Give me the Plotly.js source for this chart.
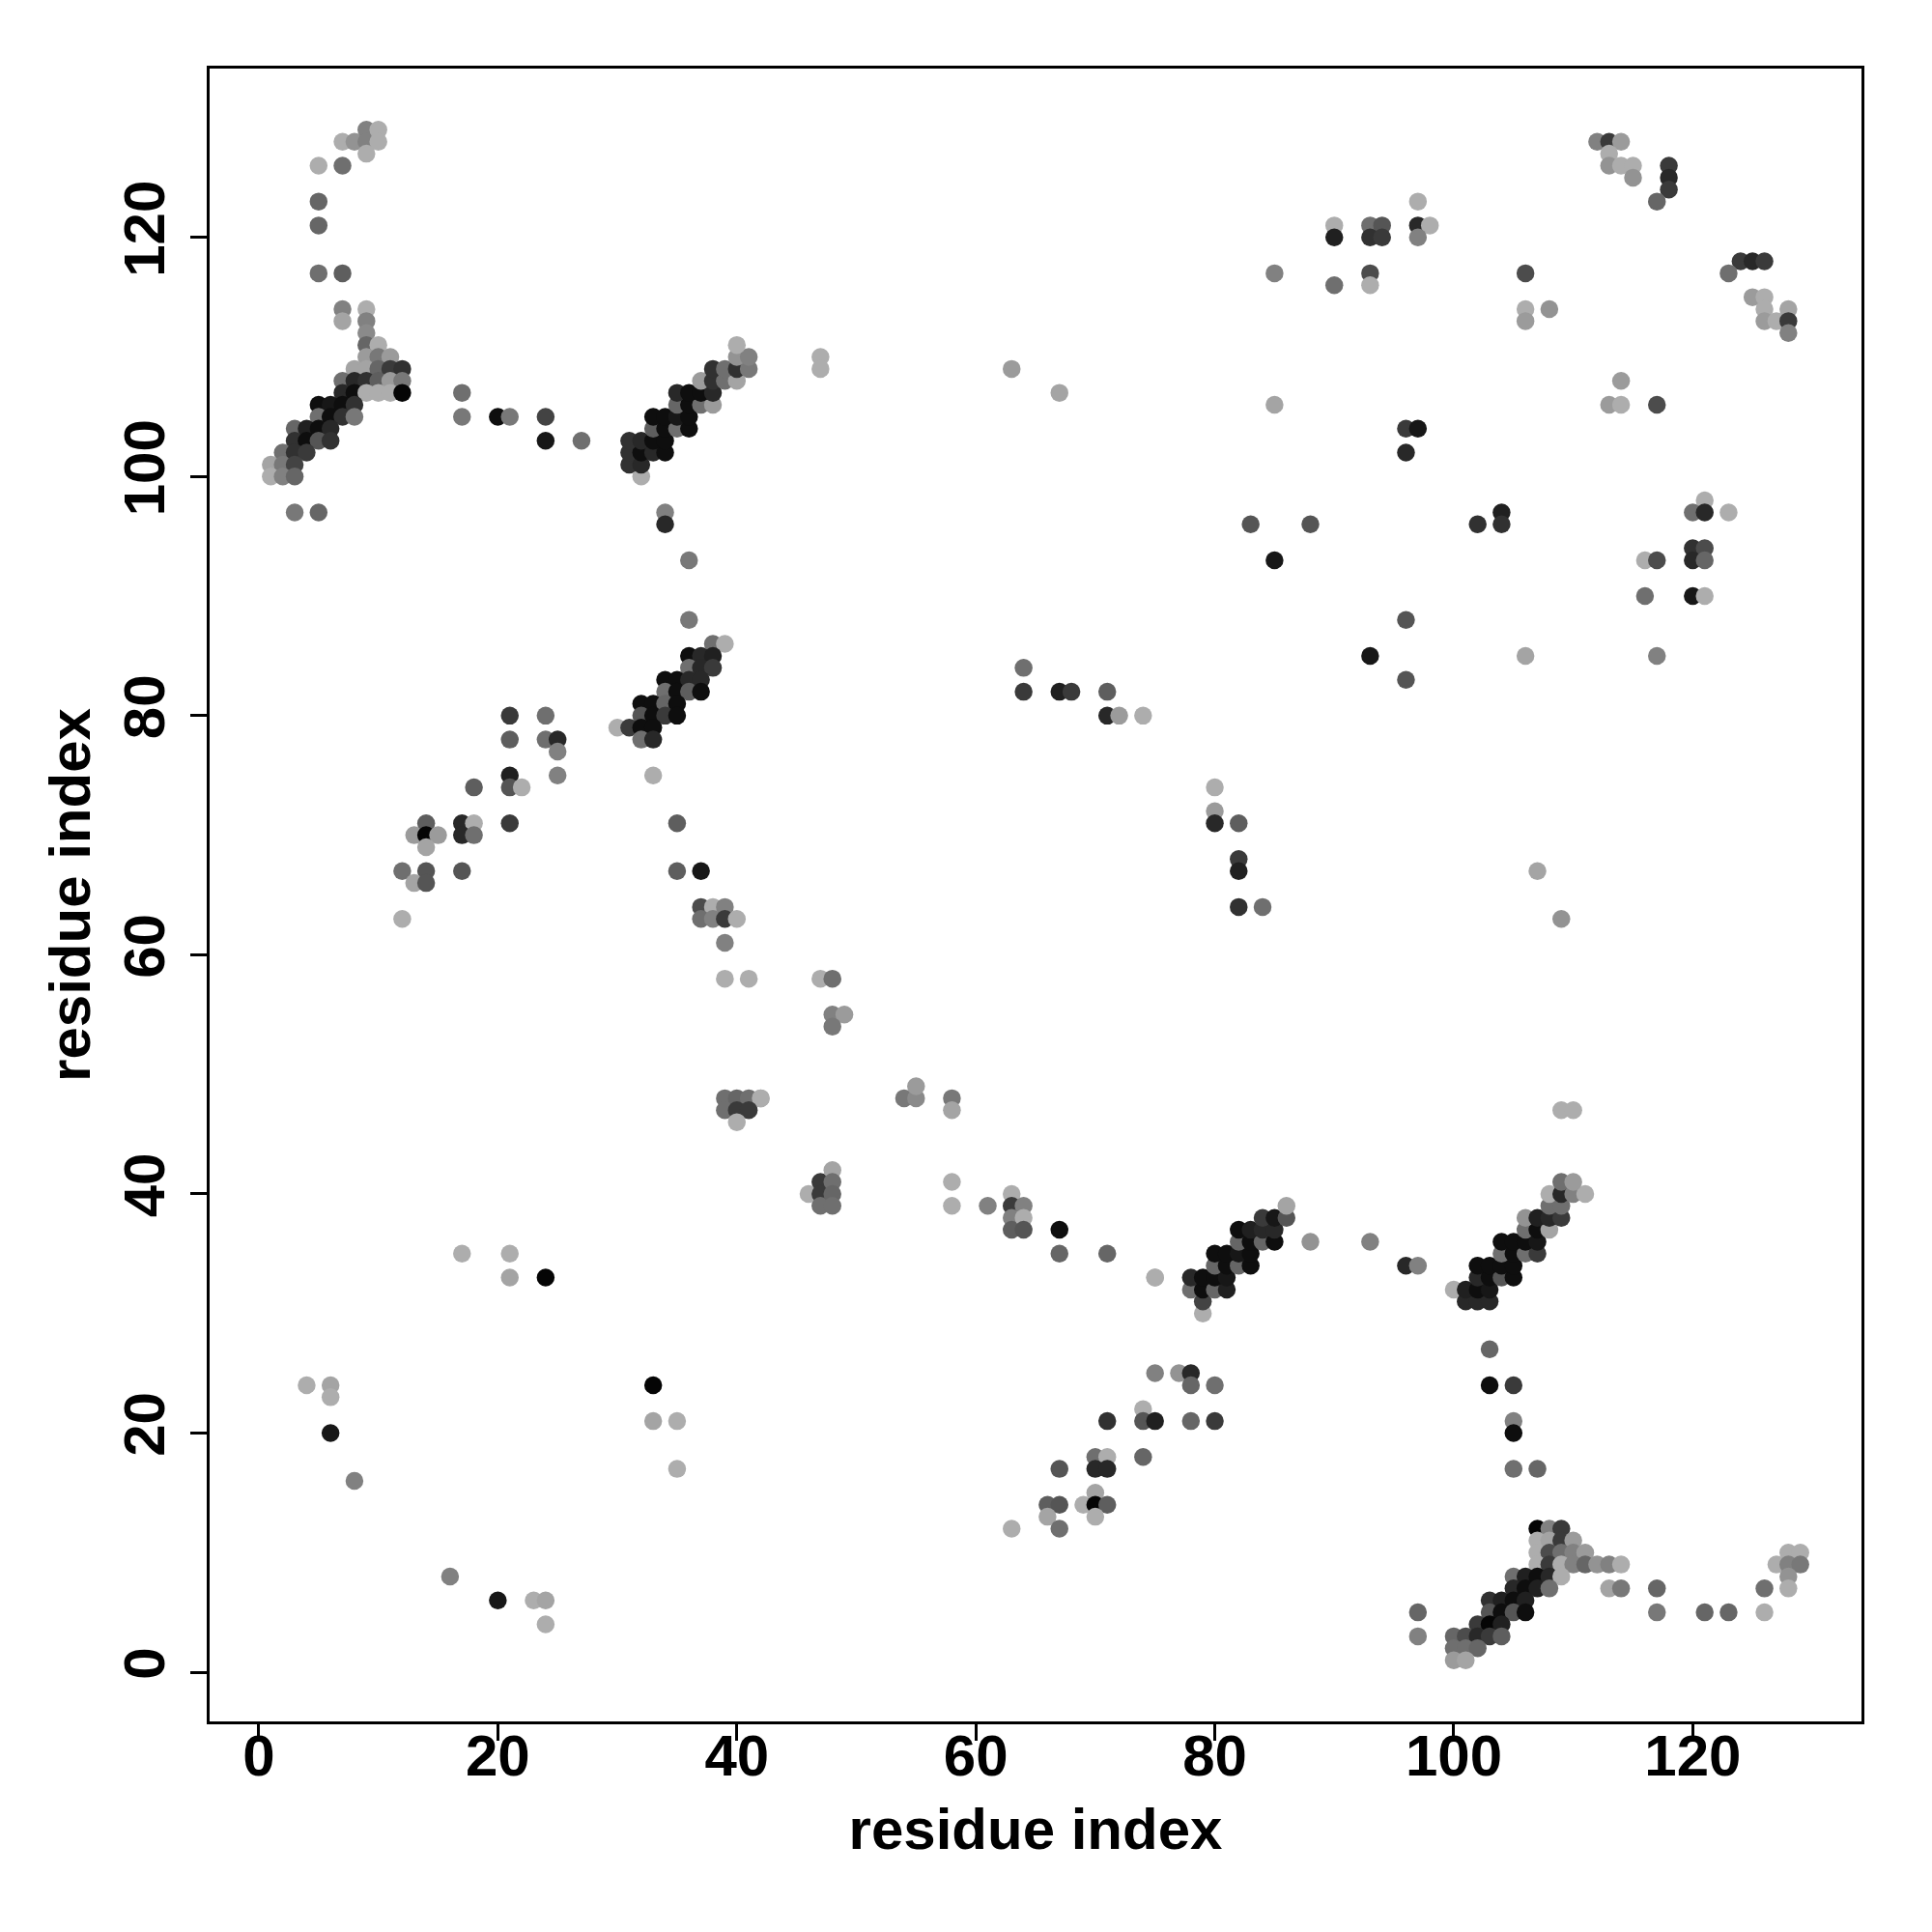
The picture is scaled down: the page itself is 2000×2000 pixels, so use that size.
<!DOCTYPE html>
<html>
<head>
<meta charset="utf-8">
<script src="https://cdn.plot.ly/plotly-3.0.1.min.js"></script>
<style>html,body{margin:0;padding:0;background:#fff;}</style>
</head>
<body>
<div id="chart" style="width:2000px;height:2000px;"></div>
<script>
// residue i (x), residue j (y), contact score (0 = light grey, 1 = black)
const resI = [
 7,8,9,9,10,10,9,5,7,5,5,5,7,7,7,9,9,9,9,10,9,10,11,8,9,10,11,12,7,8,9,10,11,12,7,8,9,10,11,12,5,6,7,8,5,6,7,8,3,4,5,6,3,4,5,6,2,3,4,1,2,3,1,2,3,3,5,
 17,17,20,21,24,24,27,
 32,31,32,31,32,33,34,31,32,33,34,33,34,35,36,33,34,35,36,35,36,37,38,35,36,37,38,37,38,39,40,38,39,40,41,40,41,40,34,34,36,36,
 47,47,63,67,85,85,83,88,85,
 112,113,114,113,113,114,115,115,118,118,118,117,90,90,93,94,93,94,97,97,98,97,90,93,93,106,106,106,108,124,125,126,123,125,126,126,126,127,128,128,128,114,113,114,117,96,97,96,102,104,104,121,120,121,123,120,121,120,121,116,117,116,120,121,96,
 93,96,106,117,107,109,109,110,
 64,64,67,68,71,71,72,74,80,80,80,82,82,82,82,84,47,48,48,49,48,42,54,55,55,58,58,
 38,39,36,37,38,36,37,38,34,35,36,37,34,35,36,37,32,33,34,35,32,33,34,35,30,31,32,33,32,33,33,
 21,24,21,24,25,25,25,21,21,22,18,17,18,17,18,21,14,13,14,15,14,12,14,17,13,14,12,35,35,37,37,38,39,37,38,39,40,39,39,41,39,40,41,42,39,40,41,40,
 17,21,21,24,4,6,6,6,8,16,20,23,24,24,33,33,35,35,
 46,47,47,47,48,48,48,48,58,58,61,63,63,63,63,64,64,64,67,67,71,75,75,77,78,78,80,74,71,74,75,78,80,74,67,70,71,70,71,70,66,67,69,70,71,66,70,63,67,
 79,79,78,79,80,81,78,79,80,81,80,81,82,83,80,81,82,83,82,83,84,85,82,83,84,85,84,85,86,86,88,75,
 100,101,102,103,101,102,103,102,103,104,105,102,103,104,105,104,105,106,107,104,105,106,107,106,107,108,106,107,108,109,108,109,108,109,110,111,109,110,96,97,93,
 103,103,105,105,105,105,107,
 107,108,109,107,108,109,110,107,108,109,110,111,107,108,109,110,111,112,113,114,105,106,107,108,109,105,106,107,108,103,104,105,106,103,104,105,106,102,103,104,100,101,102,103,104,100,101,102,100,101,
 97,97,113,114,117,117,121,123,126,126,127,128,129,128,129,128,128
];
const resJ = [
 128,128,129,128,129,128,127,126,126,123,121,117,117,114,113,114,113,112,111,111,110,110,110,109,109,109,109,109,108,108,108,108,108,108,107,107,107,107,107,107,106,106,106,106,105,105,105,105,104,104,104,104,103,103,103,103,102,102,102,101,101,101,100,100,100,97,97,
 107,105,105,105,105,103,103,
 100,101,101,102,102,102,102,103,103,103,103,104,104,104,104,105,105,105,105,106,106,106,106,107,107,107,107,108,108,108,108,109,109,109,109,110,110,111,97,96,93,88,
 110,109,109,107,117,106,96,96,93,
 128,128,128,127,126,126,126,125,126,125,124,123,121,120,121,121,120,120,123,121,121,120,116,117,116,117,114,113,114,118,118,118,117,115,115,114,113,113,114,113,112,108,106,106,106,104,104,102,96,97,96,98,97,97,97,94,94,93,93,93,93,90,90,90,88,
 85,83,85,85,67,63,47,47,
 84,82,82,82,82,80,80,80,74,72,71,71,68,67,64,64,58,58,55,55,54,48,48,48,49,48,47,
 86,86,85,85,85,84,84,84,83,83,83,83,82,82,82,82,81,81,81,81,80,80,80,80,79,79,79,79,78,78,75,
 80,80,78,78,78,77,75,75,74,74,74,71,71,70,70,71,71,70,70,70,69,67,67,67,66,66,63,71,67,67,64,64,64,63,63,63,63,61,58,58,48,48,48,48,47,47,47,46,
 35,35,33,33,24,24,23,20,16,8,6,6,6,4,24,21,21,17,
 40,41,40,39,42,41,40,39,41,39,39,40,39,38,37,39,38,37,37,35,35,33,25,25,25,24,24,22,21,21,21,21,21,18,17,18,18,17,17,15,14,14,14,14,14,13,13,12,12,
 30,31,32,32,32,32,33,33,33,33,34,34,34,34,35,35,35,35,36,36,36,36,37,37,37,37,38,38,38,39,36,33,
 32,31,31,31,32,32,32,33,33,33,33,34,34,34,34,35,35,35,35,36,36,36,36,37,37,37,38,38,38,38,39,39,40,40,40,40,41,41,34,34,36,
 27,24,24,21,20,17,17,
 12,12,12,11,11,11,11,10,10,10,10,10,9,9,9,9,9,9,9,9,8,8,8,8,8,7,7,7,7,6,6,6,6,5,5,5,5,4,4,4,3,3,3,3,3,2,2,2,1,1,
 5,3,7,7,7,5,5,5,7,5,9,10,10,9,9,8,7
];
const contactScore = [
 .05,.2,.3,.3,.05,.05,.05,.05,.4,.45,.45,.4,.5,.3,.1,.05,.3,.25,.45,.05,.15,.35,.15,.1,.1,.45,.7,.75,.4,.8,.75,.5,.15,.35,.8,.95,.05,.05,.05,1,.95,.9,.95,.75,.4,.95,.75,.35,.45,.85,.95,.8,.75,.95,.55,.75,.4,.75,.7,.1,.35,.65,.05,.3,.45,.35,.45,
 .4,.35,.95,.35,.65,.9,.4,
 .05,.75,.8,.75,.95,.8,.95,.75,.8,.95,.95,.5,.95,.4,.95,.95,.95,.9,.95,.45,.95,.4,.15,.8,.95,.95,.8,.15,.75,.4,.1,.75,.4,.75,.35,.2,.3,.05,.3,.8,.35,.35,
 .05,.05,.15,.1,.3,.1,.55,.55,.9,
 .3,.7,.15,.05,.2,.05,.05,.2,.7,.8,.7,.45,.05,.85,.4,.55,.75,.7,.05,.8,.05,.3,.4,.6,.05,.6,.05,.15,.2,.7,.8,.7,.4,.15,.05,.05,.15,.05,.1,.7,.3,.15,.15,.05,.6,.7,.9,.8,.75,.85,.75,.05,.4,.8,.05,.75,.6,.8,.45,.05,.6,.4,.9,.05,.55,
 .9,.55,.1,.3,.1,.2,.05,.05,
 .4,.7,.85,.7,.5,.8,.15,.05,.05,.15,.8,.5,.7,.85,.75,.4,.05,.4,.3,.15,.35,.1,.35,.25,.15,.35,.1,
 .4,.05,.95,.8,.85,.4,.8,.7,.95,.95,.8,.8,.4,.95,.5,.95,.95,.95,.45,.95,.55,.95,.7,.95,.05,.7,.95,.95,.4,.8,.05,
 .7,.4,.5,.4,.8,.3,.3,.85,.55,.05,.5,.8,.05,.8,.4,.7,.5,.15,1,.15,.1,.4,.55,.55,.1,.55,.05,.5,.5,.9,.6,.05,.3,.4,.3,.7,.05,.3,.05,.05,.4,.45,.4,.05,.4,.7,.7,.05,
 .05,.05,.1,1,.05,.1,.05,.9,.3,.3,.9,.05,.1,.05,1,.1,.05,.05,
 .05,.7,.7,.4,.1,.4,.45,.4,.05,.05,.3,.05,.7,.3,.5,.3,.05,.55,.95,.45,.45,.05,.3,.2,.8,.45,.4,.05,.75,.55,.85,.45,.7,.45,.55,.4,.05,.8,.8,.1,.5,.55,.05,1,.5,.1,.05,.05,.4,
 .05,.65,.4,.95,.45,.85,.8,.95,.95,.9,.45,.95,.45,.95,.95,.95,.9,.95,.45,.95,.45,.95,.95,.85,.8,.8,.7,.9,.55,.1,.2,.05,
 .05,.8,.8,.8,.85,.95,.9,.8,.95,.55,.95,.95,.95,.95,.95,.4,.95,.4,.7,.95,.95,.95,.9,.4,.95,.1,.2,.85,.8,.7,.4,.4,.05,.8,.3,.05,.4,.15,.8,.3,.3,
 .45,.95,.7,.3,.95,.4,.45,
 1,.3,.7,.05,.1,.7,.15,.05,.6,.4,.3,.15,.05,.7,.05,.3,.45,.2,.3,.05,.4,.85,.95,.8,.05,.8,.95,.85,.4,.75,.85,.95,.85,.55,.95,.55,.95,.7,1,.85,.45,.6,.8,.7,.5,.4,.4,.45,.15,.1,
 .45,.3,.1,.35,.45,.35,.45,.45,.4,.05,.05,.05,.05,.3,.35,.2,.05
];
const tickValues = [0, 20, 40, 60, 80, 100, 120];
const axisTitle = 'residue index';

const fontFamily = 'Liberation Sans, Arial, Helvetica, sans-serif';
const trace = {
  type: 'scatter', mode: 'markers',
  x: resI, y: resJ,
  marker: {
    size: 18.5,
    color: contactScore,
    cmin: 0, cmax: 1,
    colorscale: [[0, '#b6b6b6'], [1, '#050505']],
    showscale: false,
    line: {width: 0}
  },
  hoverinfo: 'x+y'
};
const axisCommon = {
  range: [-4.12, 134.12],
  tickvals: tickValues,
  ticks: 'outside', ticklen: 17, tickwidth: 3, tickcolor: '#000',
  showline: true, mirror: true, linewidth: 3, linecolor: '#000',
  showgrid: false, zeroline: false,
  tickfont: {family: fontFamily, size: 60, color: '#000', weight: 'bold'},
  automargin: false
};
const layout = {
  width: 2000, height: 2000,
  margin: {l: 217, r: 73, t: 71, b: 218},
  paper_bgcolor: '#fff', plot_bgcolor: '#fff',
  showlegend: false,
  xaxis: Object.assign({}, axisCommon, {
    ticklabelstandoff: -36,
    title: {text: axisTitle, font: {family: fontFamily, size: 60, color: '#000', weight: 'bold'}, standoff: 22}
  }),
  yaxis: Object.assign({}, axisCommon, {
    tickangle: -90,
    ticklabelstandoff: 3,
    title: {text: axisTitle, font: {family: fontFamily, size: 60, color: '#000', weight: 'bold'}, standoff: 4}
  })
};
Plotly.newPlot('chart', [trace], layout, {staticPlot: true});
</script>
</body>
</html>
